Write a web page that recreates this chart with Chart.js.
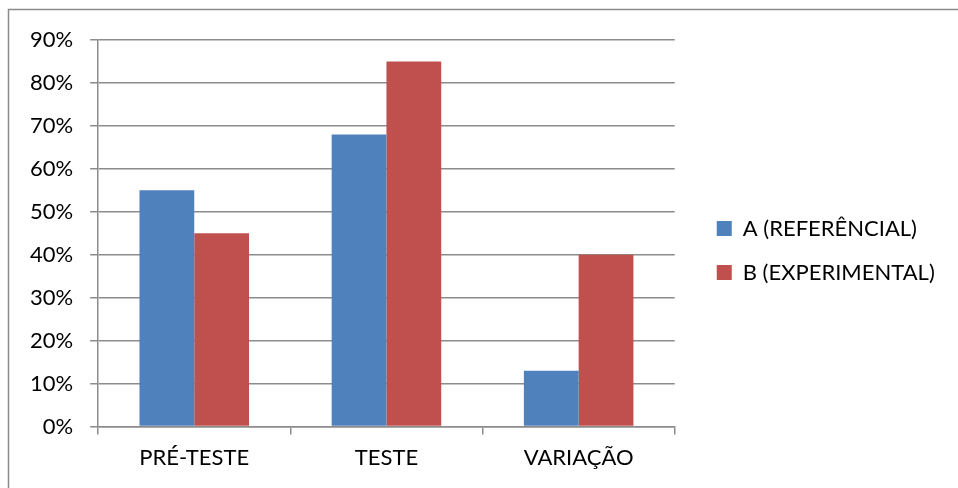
<!DOCTYPE html>
<html>
<head>
<meta charset="utf-8">
<script src="https://cdn.jsdelivr.net/npm/chart.js@4"></script>
<style>
  body { margin: 0; background: white; }
  #wrap { width: 958px; height: 488px; }
</style>
</head>
<body>
<div id="wrap"><canvas id="myChart" width="958" height="488"></canvas></div>
<script>
const categories = ['PRÉ-TESTE', 'TESTE', 'VARIAÇÃO'];
const seriesA = [55, 68, 13];
const seriesB = [45, 85, 40];
const seriesNames = ['A (REFERÊNCIAL)', 'B (EXPERIMENTAL)'];
const yTicks = [0, 10, 20, 30, 40, 50, 60, 70, 80, 90];

const gridColor = '#8c8c8c';
const legendGap = 20; // extra room between plot and legend
const legendLift = 10;

// outer frame (only top and left edges show in the original)
const framePlugin = {
  id: 'frame',
  beforeDraw: function(chart) {
    const c = chart.ctx;
    c.save();
    c.strokeStyle = '#8a8a8a';
    c.lineWidth = 1.5;
    c.beginPath();
    c.moveTo(8.5, chart.height);
    c.lineTo(8.5, 9.5);
    c.lineTo(chart.width, 9.5);
    c.stroke();
    c.restore();
  }
};

// widen the legend box on its left side so the plot ends earlier
const legendGapPlugin = {
  id: 'legendGap',
  beforeLayout: function(chart) {
    const lg = chart.legend;
    if (lg && !lg._gapWrapped) {
      const fit = lg.fit.bind(lg);
      lg.fit = function() { fit(); this.width += legendGap; };
      lg._gapWrapped = true;
    }
  },
  afterLayout: function(chart) {
    const lg = chart.legend;
    if (lg) {
      lg.left += legendGap;
      lg.right += legendGap;
      lg.top -= legendLift;
      lg.bottom -= legendLift;
    }
  }
};

Chart.defaults.font.family = 'Lato, "Open Sans", sans-serif';
Chart.defaults.color = '#000';

new Chart(document.getElementById('myChart'), {
  type: 'bar',
  data: {
    labels: categories,
    datasets: [
      { label: seriesNames[0], data: seriesA, backgroundColor: '#4F81BD' },
      { label: seriesNames[1], data: seriesB, backgroundColor: '#C0504D' }
    ]
  },
  options: {
    responsive: false,
    animation: false,
    layout: { padding: { left: 13, top: 40, right: 36, bottom: 7 } },
    datasets: { bar: { categoryPercentage: 0.57, barPercentage: 1 } },
    scales: {
      x: {
        grid: { display: true, drawOnChartArea: false, color: gridColor, lineWidth: 1.5, tickLength: 8, offset: true },
        border: { color: gridColor, width: 1.5 },
        ticks: { font: { size: 22 }, padding: 10 }
      },
      y: {
        min: 0,
        max: 90,
        afterBuildTicks: function(axis) {
          axis.ticks = yTicks.map(function(v) { return { value: v }; });
        },
        grid: { color: gridColor, lineWidth: 1.5, tickLength: 8 },
        border: { color: gridColor, width: 1.5 },
        ticks: {
          font: { size: 22 },
          padding: 17,
          callback: function(v) { return v + '%'; }
        }
      }
    },
    plugins: {
      legend: {
        position: 'right',
        labels: { boxWidth: 15, boxHeight: 15, padding: 22, font: { size: 22 } }
      },
      tooltip: { enabled: false }
    }
  },
  plugins: [framePlugin, legendGapPlugin]
});
</script>
</body>
</html>
